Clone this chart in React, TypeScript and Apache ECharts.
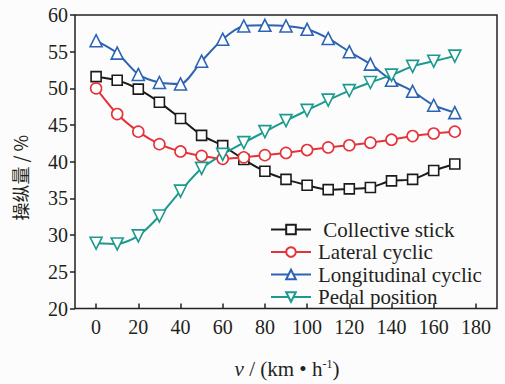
import React, { useEffect, useRef, useState } from "react";
import * as echarts from "echarts";

const speeds = [0, 10, 20, 30, 40, 50, 60, 70, 80, 90, 100, 110, 120, 130, 140, 150, 160, 170];
const collective = [51.6, 51.1, 49.9, 48.1, 45.9, 43.6, 42.2, 40.3, 38.7, 37.6, 36.8, 36.2, 36.3, 36.5, 37.4, 37.6, 38.8, 39.7];
const lateral = [50.0, 46.5, 44.1, 42.4, 41.4, 40.8, 40.4, 40.6, 40.9, 41.2, 41.6, 41.95, 42.25, 42.6, 43.0, 43.5, 43.85, 44.1];
const longitudinal = [56.5, 54.8, 51.9, 50.8, 50.6, 53.7, 56.7, 58.5, 58.6, 58.5, 58.05, 56.8, 55.0, 53.3, 51.1, 49.6, 47.7, 46.7];
const pedal = [28.9, 28.8, 29.9, 32.6, 36.0, 39.1, 41.0, 42.6, 44.1, 45.6, 47.0, 48.4, 49.7, 50.8, 51.8, 53.0, 53.7, 54.4];
const xTicks = [0, 20, 40, 60, 80, 100, 120, 140, 160, 180];
const seriesNames = ["Collective stick", "Lateral cyclic", "Longitudinal cyclic", "Pedal position"];

const SERIF = "Liberation Serif";
const CJK = "Noto Sans CJK SC";
const TXT = "#231f20";

export default function App() {
  const ref = useRef<HTMLDivElement>(null);
  const [ready, setReady] = useState("");
  useEffect(() => {
    document.body.style.margin = "0";
    const chart = echarts.init(ref.current!, null, { renderer: "svg" });
    const mk = (name: string, vals: number[], color: string, symbol: string, size: number, rotate = 0) => ({
      name,
      type: "line",
      data: speeds.map((s, i) => [s, vals[i]]),
      smooth: 0.25,
      symbol,
      symbolSize: size,
      symbolRotate: rotate,
      lineStyle: { color, width: 2 },
      itemStyle: { color: "#ffffff", borderColor: color, borderWidth: 1.6 },
      z: 3,
    });
    chart.setOption({
      animation: false,
      grid: { left: 75, right: 8, top: 15, bottom: 60, show: true, borderColor: "#222", borderWidth: 1.5 },
      xAxis: {
        type: "value",
        min: -10,
        max: 190,
        name: "{i|v} / (km • h{sup|-1})",
        nameLocation: "middle",
        nameGap: 49,
        nameTextStyle: {
          fontFamily: SERIF,
          fontSize: 21,
          color: TXT,
          padding: [0, 0, 0, 2],
          rich: {
            i: { fontFamily: SERIF, fontStyle: "italic", fontSize: 21, color: TXT },
            sup: { fontFamily: SERIF, fontSize: 12, color: TXT, verticalAlign: "top", lineHeight: 22 },
          },
        },
        splitLine: { show: false },
        axisLine: { show: false, onZero: false },
        axisTick: { inside: true, length: 5, customValues: xTicks, lineStyle: { color: "#222", width: 1.5 } },
        axisLabel: { customValues: xTicks, margin: 8, fontSize: 20, fontFamily: SERIF, color: TXT },
      },
      yAxis: {
        type: "value",
        min: 20,
        max: 60,
        interval: 5,
        name: "操纵量 / %",
        nameLocation: "middle",
        nameGap: 46,
        nameRotate: 90,
        nameTextStyle: { fontFamily: CJK, fontSize: 18, color: TXT, padding: [0, 32, 0, 0] },
        splitLine: { show: false },
        axisLine: { show: false, onZero: false },
        axisTick: { show: true, inside: false, length: 5, lineStyle: { color: "#222", width: 1.5 } },
        axisLabel: { margin: 7, fontSize: 20, fontFamily: SERIF, color: TXT },
      },
      legend: {
        orient: "vertical",
        left: 270,
        top: 219,
        padding: 0,
        itemWidth: 40,
        itemHeight: 12,
        itemGap: 1.5,
        data: seriesNames,
        formatter: (n: string) => (n === "Collective stick" ? " " + n : n),
        textStyle: { fontFamily: SERIF, fontSize: 21, color: TXT, padding: [0, 0, 0, 2] },
      },
      series: [
        mk(seriesNames[0], collective, "#1b1b1b", "rect", 10),
        mk(seriesNames[1], lateral, "#e5333a", "circle", 11),
        mk(seriesNames[2], longitudinal, "#2c63b4", "triangle", 12),
        mk(seriesNames[3], pedal, "#1c9a8f", "triangle", 12, 180),
      ],
    });
    setReady(" ");
    return () => chart.dispose();
  }, []);
  return (
    <div style={{ position: "relative", width: 505, height: 384, background: "#fcfcfc" }}>
      <div ref={ref} style={{ width: 505, height: 384 }} />
      <pre style={{ position: "absolute", left: 0, top: 0, margin: 0, fontSize: 9, color: "transparent", pointerEvents: "none" }}>{ready}</pre>
    </div>
  );
}
